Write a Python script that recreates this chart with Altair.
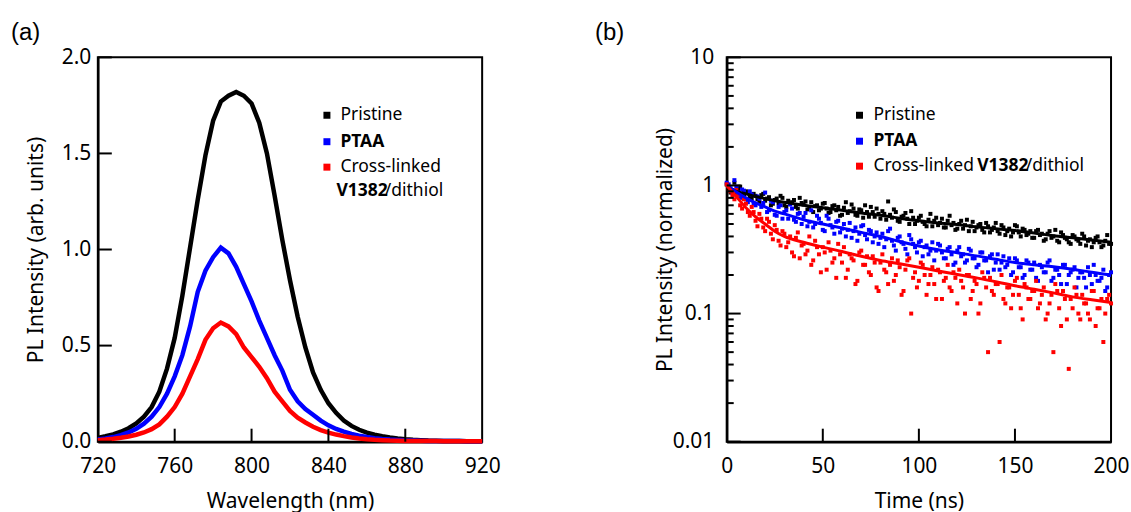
import altair as alt
import pandas as pd

# ---------------- data ----------------
wavelength = list(range(720, 921, 4))
pl_pristine = [0.020, 0.028, 0.038, 0.052, 0.070, 0.095, 0.13, 0.18, 0.26, 0.38,
               0.54, 0.76, 1.01, 1.26, 1.49, 1.67, 1.77, 1.80, 1.82, 1.80,
               1.76, 1.66, 1.50, 1.28, 1.05, 0.84, 0.65, 0.49, 0.36, 0.27,
               0.20, 0.15, 0.11, 0.082, 0.062, 0.047, 0.036, 0.028, 0.022, 0.017,
               0.013, 0.010, 0.008, 0.006, 0.005, 0.004, 0.003, 0.003, 0.002, 0.002,
               0.002]
pl_ptaa = [0.012, 0.017, 0.024, 0.034, 0.048, 0.067, 0.094, 0.13, 0.18, 0.25,
           0.34, 0.45, 0.60, 0.78, 0.89, 0.96, 1.01, 0.98, 0.91, 0.82,
           0.73, 0.63, 0.54, 0.45, 0.37, 0.27, 0.21, 0.17, 0.14, 0.11,
           0.085, 0.066, 0.052, 0.040, 0.031, 0.024, 0.018, 0.014, 0.011, 0.009,
           0.007, 0.006, 0.005, 0.004, 0.004, 0.003, 0.003, 0.003, 0.002, 0.002,
           0.002]
pl_v1382 = [0.008, 0.011, 0.015, 0.020, 0.027, 0.036, 0.048, 0.065, 0.090, 0.13,
            0.18, 0.25, 0.34, 0.43, 0.53, 0.59, 0.62, 0.60, 0.56, 0.49,
            0.44, 0.39, 0.33, 0.26, 0.21, 0.16, 0.125, 0.10, 0.078, 0.060,
            0.047, 0.037, 0.029, 0.022, 0.017, 0.013, 0.010, 0.008, 0.006, 0.005,
            0.004, 0.004, 0.003, 0.003, 0.003, 0.002, 0.002, 0.002, 0.002, 0.002,
            0.002]

time_even = list(range(0, 201, 2))
time_odd = list(range(1, 200, 2))
trpl_pristine_even = [1.02, 0.88, 1.05, 0.93, 0.84, 0.90, 0.80, 0.86, 0.78, 0.84,
                      0.76, 0.81, 0.72, 0.79, 0.83, 0.70, 0.76, 0.74, 0.68, 0.80,
                      0.71, 0.65, 0.74, 0.69, 0.64, 0.72, 0.66, 0.62, 0.70, 0.68,
                      0.59, 0.74, 0.63, 0.66, 0.58, 0.64, 0.70, 0.57, 0.62, 0.66,
                      0.55, 0.60, 0.75, 0.56, 0.62, 0.52, 0.58, 0.55, 0.63, 0.50,
                      0.56, 0.52, 0.48, 0.60, 0.53, 0.49, 0.55, 0.47, 0.58, 0.51,
                      0.46, 0.53, 0.49, 0.44, 0.52, 0.47, 0.50, 0.43, 0.48, 0.45,
                      0.51, 0.42, 0.47, 0.44, 0.40, 0.49, 0.43, 0.46, 0.41, 0.44,
                      0.39, 0.45, 0.42, 0.38, 0.44, 0.40, 0.37, 0.43, 0.39, 0.36,
                      0.41, 0.38, 0.35, 0.40, 0.37, 0.33, 0.39, 0.36, 0.34, 0.41,
                      0.35]
trpl_pristine_odd = [0.96, 0.92, 0.85, 0.98, 0.82, 0.88, 0.79, 0.83, 0.74, 0.86,
                     0.79, 0.70, 0.77, 0.73, 0.80, 0.68, 0.72, 0.77, 0.66, 0.73,
                     0.75, 0.67, 0.62, 0.70, 0.66, 0.73, 0.61, 0.69, 0.64, 0.58,
                     0.67, 0.61, 0.71, 0.59, 0.65, 0.56, 0.62, 0.68, 0.57, 0.60,
                     0.63, 0.54, 0.59, 0.65, 0.53, 0.57, 0.61, 0.50, 0.56, 0.53,
                     0.58, 0.50, 0.54, 0.48, 0.56, 0.51, 0.47, 0.53, 0.49, 0.45,
                     0.50, 0.46, 0.54, 0.48, 0.44, 0.49, 0.45, 0.51, 0.43, 0.47,
                     0.44, 0.49, 0.41, 0.46, 0.43, 0.48, 0.40, 0.45, 0.42, 0.39,
                     0.44, 0.41, 0.37, 0.42, 0.39, 0.45, 0.36, 0.41, 0.38, 0.35,
                     0.40, 0.37, 0.42, 0.34, 0.38, 0.36, 0.40, 0.33, 0.37, 0.35]
trpl_ptaa_even = [1.05, 0.95, 1.10, 0.88, 0.93, 0.78, 0.90, 0.72, 0.82, 0.68,
                  0.88, 0.64, 0.74, 0.58, 0.70, 0.62, 0.55, 0.66, 0.52, 0.61,
                  0.57, 0.48, 0.64, 0.50, 0.55, 0.45, 0.58, 0.49, 0.42, 0.53,
                  0.46, 0.40, 0.51, 0.44, 0.37, 0.48, 0.41, 0.45, 0.36, 0.43,
                  0.39, 0.33, 0.44, 0.37, 0.31, 0.40, 0.35, 0.29, 0.38, 0.33,
                  0.36, 0.28, 0.34, 0.31, 0.26, 0.35, 0.30, 0.27, 0.33, 0.24,
                  0.31, 0.28, 0.25, 0.32, 0.27, 0.23, 0.30, 0.26, 0.21, 0.29,
                  0.25, 0.22, 0.28, 0.24, 0.20, 0.27, 0.23, 0.19, 0.26, 0.22,
                  0.25, 0.18, 0.23, 0.21, 0.26, 0.19, 0.22, 0.17, 0.24, 0.20,
                  0.22, 0.16, 0.21, 0.19, 0.23, 0.17, 0.20, 0.18, 0.22, 0.16,
                  0.21]
trpl_ptaa_odd = [1.02, 0.87, 0.98, 0.80, 0.91, 0.74, 0.85, 0.70, 0.79, 0.73,
                 0.62, 0.76, 0.59, 0.68, 0.55, 0.64, 0.71, 0.54, 0.60, 0.50,
                 0.61, 0.52, 0.47, 0.58, 0.51, 0.44, 0.55, 0.47, 0.52, 0.43,
                 0.50, 0.45, 0.39, 0.47, 0.42, 0.49, 0.38, 0.44, 0.40, 0.35,
                 0.42, 0.38, 0.46, 0.34, 0.39, 0.36, 0.32, 0.41, 0.35, 0.30,
                 0.37, 0.33, 0.29, 0.36, 0.31, 0.34, 0.27, 0.32, 0.29, 0.25,
                 0.33, 0.29, 0.26, 0.31, 0.27, 0.24, 0.30, 0.26, 0.28, 0.22,
                 0.29, 0.25, 0.23, 0.27, 0.21, 0.26, 0.23, 0.20, 0.25, 0.22,
                 0.19, 0.24, 0.21, 0.25, 0.18, 0.22, 0.20, 0.24, 0.17, 0.21,
                 0.23, 0.19, 0.21, 0.16, 0.20, 0.24, 0.18, 0.19, 0.15, 0.20]
trpl_v1382_even = [1.02, 0.90, 0.78, 0.85, 0.66, 0.72, 0.58, 0.62, 0.48, 0.55,
                   0.44, 0.52, 0.38, 0.45, 0.34, 0.42, 0.36, 0.30, 0.39, 0.27,
                   0.35, 0.31, 0.24, 0.37, 0.29, 0.33, 0.22, 0.31, 0.27, 0.35,
                   0.25, 0.19, 0.29, 0.26, 0.18, 0.31, 0.24, 0.21, 0.28, 0.16,
                   0.25, 0.22, 0.17, 0.27, 0.20, 0.23, 0.15, 0.26, 0.10, 0.21,
                   0.18, 0.24, 0.14, 0.20, 0.17, 0.22, 0.13, 0.19, 0.16, 0.21,
                   0.12, 0.18, 0.10, 0.20, 0.15, 0.17, 0.12, 0.19, 0.05, 0.15,
                   0.17, 0.06, 0.13, 0.16, 0.11, 0.18, 0.14, 0.09, 0.16, 0.13,
                   0.15, 0.11, 0.14, 0.09, 0.12, 0.05, 0.15, 0.08, 0.13, 0.037,
                   0.11, 0.14, 0.09, 0.12, 0.10, 0.15, 0.08, 0.11, 0.06, 0.13,
                   0.12]
trpl_v1382_odd = [0.95, 0.84, 0.92, 0.70, 0.78, 0.62, 0.68, 0.53, 0.60, 0.47,
                  0.55, 0.42, 0.49, 0.37, 0.44, 0.33, 0.40, 0.28, 0.43, 0.34,
                  0.29, 0.40, 0.26, 0.33, 0.21, 0.30, 0.36, 0.25, 0.19, 0.29,
                  0.33, 0.22, 0.27, 0.17, 0.30, 0.24, 0.28, 0.20, 0.25, 0.15,
                  0.29, 0.21, 0.24, 0.18, 0.26, 0.14, 0.22, 0.27, 0.19, 0.16,
                  0.25, 0.20, 0.17, 0.23, 0.13, 0.21, 0.18, 0.24, 0.15, 0.19,
                  0.22, 0.16, 0.20, 0.13, 0.18, 0.10, 0.21, 0.16, 0.19, 0.14,
                  0.17, 0.20, 0.12, 0.16, 0.14, 0.19, 0.11, 0.17, 0.13, 0.15,
                  0.18, 0.12, 0.16, 0.10, 0.14, 0.17, 0.11, 0.15, 0.09, 0.13,
                  0.16, 0.10, 0.14, 0.12, 0.09, 0.15, 0.11, 0.13, 0.10, 0.14]

fit_time = [0, 5, 10, 15, 20, 25, 30, 40, 50, 60, 70, 80, 90, 100,
            110, 120, 130, 140, 150, 160, 170, 180, 190, 200]
fit_pristine = [0.95, 0.90, 0.86, 0.82, 0.79, 0.76, 0.74, 0.70, 0.67, 0.64, 0.61, 0.585,
                0.555, 0.53, 0.51, 0.495, 0.475, 0.46, 0.445, 0.425, 0.405, 0.39, 0.375, 0.36]
fit_ptaa = [1.0, 0.89, 0.80, 0.73, 0.68, 0.63, 0.60, 0.54, 0.50, 0.465, 0.43, 0.40,
            0.365, 0.337, 0.315, 0.298, 0.282, 0.265, 0.25, 0.24, 0.232, 0.222, 0.21, 0.20]
fit_v1382 = [1.0, 0.82, 0.67, 0.57, 0.50, 0.44, 0.40, 0.36, 0.33, 0.305, 0.28, 0.26,
             0.245, 0.23, 0.215, 0.202, 0.19, 0.177, 0.165, 0.155, 0.145, 0.135, 0.128, 0.122]

colors = ["#000000", "#0000ff", "#ff0000"]

a_xticks = [720, 760, 800, 840, 880, 920]
a_yticks = [0.0, 0.5, 1.0, 1.5, 2.0]
b_xticks = [0, 50, 100, 150, 200]
b_yticks = [0.01, 0.1, 1, 10]
b_yminor = [0.02, 0.03, 0.04, 0.05, 0.06, 0.07, 0.08, 0.09,
            0.2, 0.3, 0.4, 0.5, 0.6, 0.7, 0.8, 0.9,
            2, 3, 4, 5, 6, 7, 8, 9]

# ---------------- styling ----------------
FONT = "Noto Sans"
W = 385
H = 385
LEG = 17.5
one = pd.DataFrame({"k": [0]})


def txt(s, x, y, size=LEG, weight="normal", font=FONT):
    return alt.Chart(one).mark_text(
        text=s, font=font, fontSize=size, fontWeight=weight, align="left",
        baseline="middle", color="black"
    ).encode(x=alt.value(x), y=alt.value(y))


def sq(c, x, y):
    return alt.Chart(one).mark_square(size=49, color=c, opacity=1, filled=True).encode(
        x=alt.value(x), y=alt.value(y))


# ---------------- panel (a) ----------------
xs_a = alt.Scale(domain=[720, 920], nice=False, zero=False)
ys_a = alt.Scale(domain=[0, 2], nice=False, zero=False)
ax_a_x = alt.Axis(values=a_xticks, format="d", labelPadding=14, titleY=66,
                  titleBaseline="alphabetic", labelFlush=False)
ax_a_y = alt.Axis(values=a_yticks, format=".1f", labelPadding=7, titleX=-61,
                  titleY=H / 2, titleBaseline="middle", labelFlush=False)
TX_A = "Wavelength (nm)"
TY_A = "PL Intensity (arb. units)"


def ax(f):
    return alt.X(f"{f}:Q", scale=xs_a, axis=ax_a_x, title=TX_A)


def ay(f):
    return alt.Y(f"{f}:Q", scale=ys_a, axis=ax_a_y, title=TY_A)


a_layers = []
for vals, c in zip([pl_pristine, pl_ptaa, pl_v1382], colors):
    df = pd.DataFrame({"w": wavelength, "I": vals})
    a_layers.append(alt.Chart(df).mark_line(color=c, strokeWidth=4.5).encode(x=ax("w"), y=ay("I")))

a_layers.append(alt.Chart(pd.DataFrame({"w": a_xticks[1:-1]})).mark_rule(color="black", strokeWidth=2)
                .encode(x=ax("w"), y=alt.value(H), y2=alt.value(H - 13)))
a_layers.append(alt.Chart(pd.DataFrame({"I": a_yticks})).mark_rule(color="black", strokeWidth=2)
                .encode(y=ay("I"), x=alt.value(0), x2=alt.value(14)))

a_layers += [
    sq(colors[0], 229.5, 58), txt("Pristine", 243, 58),
    sq(colors[1], 229.5, 84.5), txt("PTAA", 243, 84.5, weight="bold"),
    sq(colors[2], 229.5, 110), txt("Cross-linked", 243, 110),
    txt("V1382", 239, 134, weight="bold"), txt("/dithiol", 287.5, 134),
    txt("(a)", -87, -24, size=24, font="Liberation Sans"),
]
panel_a = alt.layer(*a_layers).properties(width=W, height=H)

# ---------------- panel (b) ----------------
xs_b = alt.Scale(domain=[0, 200], nice=False, zero=False)
ys_b = alt.Scale(type="log", domain=[0.01, 10], nice=False)
ax_b_x = alt.Axis(values=b_xticks, format="d", labelPadding=14, titleY=66,
                  titleBaseline="alphabetic", labelFlush=False)
ax_b_y = alt.Axis(values=b_yticks, format="~g", labelPadding=13, titleX=-61,
                  titleY=H / 2, titleBaseline="middle", labelFlush=False)
TX_B = "Time (ns)"
TY_B = "PL Intensity (normalized)"


def bx(f):
    return alt.X(f"{f}:Q", scale=xs_b, axis=ax_b_x, title=TX_B)


def by(f):
    return alt.Y(f"{f}:Q", scale=ys_b, axis=ax_b_y, title=TY_B)


b_layers = []
scatter_sets = [
    (trpl_pristine_even, trpl_pristine_odd, colors[0]),
    (trpl_ptaa_even, trpl_ptaa_odd, colors[1]),
    (trpl_v1382_even, trpl_v1382_odd, colors[2]),
]
for ev, od, c in scatter_sets:
    df = pd.DataFrame({"t": time_even + time_odd, "I": ev + od})
    b_layers.append(alt.Chart(df).mark_square(color=c, size=16, opacity=1, filled=True)
                    .encode(x=bx("t"), y=by("I")))
for vals, c in zip([fit_pristine, fit_ptaa, fit_v1382], colors):
    df = pd.DataFrame({"t": fit_time, "I": vals})
    b_layers.append(alt.Chart(df).mark_line(color=c, strokeWidth=3, interpolate="monotone")
                    .encode(x=bx("t"), y=by("I")))

b_layers.append(alt.Chart(pd.DataFrame({"t": b_xticks[1:-1]})).mark_rule(color="black", strokeWidth=2)
                .encode(x=bx("t"), y=alt.value(H), y2=alt.value(H - 13)))
b_layers.append(alt.Chart(pd.DataFrame({"I": b_yticks})).mark_rule(color="black", strokeWidth=2)
                .encode(y=by("I"), x=alt.value(0), x2=alt.value(14)))
b_layers.append(alt.Chart(pd.DataFrame({"I": b_yminor})).mark_rule(color="black", strokeWidth=2)
                .encode(y=by("I"), x=alt.value(0), x2=alt.value(7)))

b_layers += [
    sq(colors[0], 133, 58), txt("Pristine", 147, 58),
    sq(colors[1], 133, 84), txt("PTAA", 147, 84, weight="bold"),
    sq(colors[2], 133, 109), txt("Cross-linked", 147, 109),
    txt("V1382", 251, 109, weight="bold"), txt("/dithiol", 299.5, 109),
    txt("(b)", -132, -24, size=24, font="Liberation Sans"),
]
panel_b = alt.layer(*b_layers).properties(width=W, height=H)

chart = alt.hconcat(panel_a, panel_b, spacing=245, bounds="flush").properties(
    padding={"left": 10, "top": 20, "right": 0, "bottom": 0},
    autosize=alt.AutoSizeParams(type="pad"),
    background="white",
).configure_view(
    stroke="black", strokeWidth=2
).configure_axis(
    grid=False, ticks=False, tickSize=0, domain=True, domainColor="black", domainWidth=2.5,
    labelFont=FONT, labelFontSize=21, labelColor="black", labelFlush=False,
    titleFont=FONT, titleFontSize=21, titleFontWeight="normal", titleColor="black",
)

chart.save("out.html", embed_options={"renderer": "svg", "actions": False})
